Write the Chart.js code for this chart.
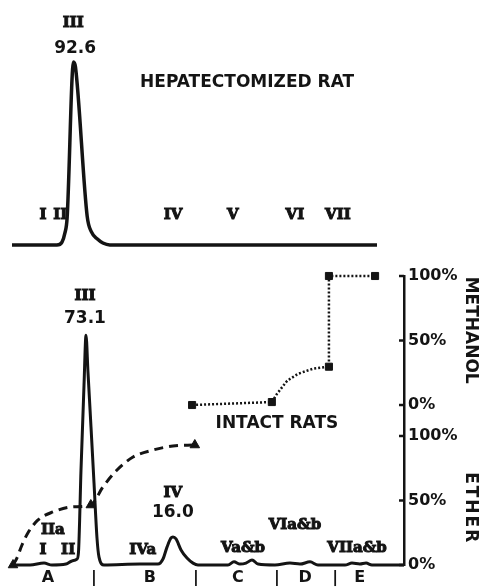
<!DOCTYPE html>
<html>
<head>
<meta charset="utf-8">
<script src="https://cdn.jsdelivr.net/npm/chart.js@4.4.1/dist/chart.umd.min.js"></script>
<style>
  html, body { margin: 0; padding: 0; background: #fff; }
  #wrap { position: relative; width: 479px; height: 587px; }
  canvas { position: absolute; left: 0; }
  #top { top: 0; }
  #bottom { top: 260px; }
</style>
</head>
<body>
<div id="wrap">
  <canvas id="top" width="479" height="260"></canvas>
  <canvas id="bottom" width="479" height="327"></canvas>
</div>
<script>
// Hepatectomized rat: chromatogram trace (fraction position 0-100, relative height)
const hepX = [0, 12.3, 13.7, 14.5, 15.1, 16.85, 17.4, 20.6, 21.8, 23.4, 24.9, 26.8, 100];
const hepY = [0, 0, 1.5, 6.1, 13.7, 92.6, 90, 14.5, 6.5, 3.0, 1.0, 0, 0];

// Intact rats: chromatogram trace
const intactX = [0, 4.35, 7.93, 9.97, 13.55, 15.09, 16.37, 16.75, 17.39, 18.16, 18.67, 19.18, 19.95, 20.72, 21.48, 22.0, 23.27,
                 32.48, 37.08, 38.36, 39.39, 40.41, 40.92, 41.69, 42.97, 44.5, 46.04, 47.31,
                 54.99, 56.52, 58.06, 59.59, 61.13, 62.66, 67.0, 70.84, 73.4, 75.96, 78.0, 84.9, 86.7, 88.7, 90.3, 91.8, 100];
const intactY = [0, 0, 0.6, 0, 0.3, 1.3, 1.9, 4.1, 30.2, 57.2, 73.1, 61.3, 43.9, 26.1, 8.6, 2.5, 0,
                 0.3, 0.3, 1.9, 5.7, 8.6, 8.9, 8.3, 4.8, 2.2, 0.6, 0,
                 0, 1.0, 0.3, 0.6, 1.6, 0.3, 0, 0.6, 0.3, 1.0, 0, 0, 0.6, 0.3, 0.6, 0, 0];

// Ether gradient (%), dashed curve and its sampled points
const etherX = [0, 1.0, 2.3, 3.8, 6.4, 10.2, 15.1, 19.9, 23.0, 26.6, 30.7, 35.8, 40.9, 46.5];
const etherY = [0, 5.4, 15.5, 24.8, 34.9, 41.1, 45.0, 46.5, 60.5, 73.6, 83.7, 89.1, 92.2, 93.0];
const etherSampleX = [0, 19.9, 46.5];
const etherSampleY = [0, 46.5, 93.0];

// Methanol gradient (%), dotted curve and its sampled points
const methX = [45.8, 66.2, 67.5, 70.1, 72.9, 76.7, 80.8, 80.8, 92.6];
const methY = [0, 2.3, 8.6, 18.75, 24.2, 28.1, 29.7, 100, 100];
const methSampleX = [45.8, 66.2, 80.8, 80.8, 92.6];
const methSampleY = [0, 2.3, 29.7, 100, 100];

// right-hand scale: ether 0-100 at the bottom, methanol 0-100 stacked above it
const METHANOL_OFFSET = 124;
const etherTicks = [0, 50, 100];
const methanolTicks = [0, 50, 100];
const rightTickValues = [...etherTicks, ...methanolTicks.map(m => m + METHANOL_OFFSET)];
const rightTickLabels = ['0%', '50%', '100%', '0%', '50%', '100%'];

// fraction zones under the lower chromatogram
const zonePos = [8.95, 20.7, 35.0, 46.8, 57.5, 67.5, 74.7, 82.4, 88.7];
const zoneLabels = ['A', '|', 'B', '|', 'C', '|', 'D', '|', 'E'];

// peak names / numbers
const topLabels = [
  { text: 'III', x: 16.8, y: 112.4, f: 'roman' },
  { text: '92.6', x: 17.3, y: 99.7, f: 'num' },
  { text: 'HEPATECTOMIZED RAT', x: 64.4, y: 82, f: 'num' },
  { text: 'I', x: 8.5, y: 15.2, f: 'roman' },
  { text: 'II', x: 13.2, y: 15.2, f: 'roman' },
  { text: 'IV', x: 44.1, y: 15.2, f: 'roman' },
  { text: 'V', x: 60.5, y: 15.2, f: 'roman' },
  { text: 'VI', x: 77.5, y: 15.2, f: 'roman' },
  { text: 'VII', x: 89.3, y: 15.2, f: 'roman' }
];
const bottomLabels = [
  { text: 'III', x: 18.4, y: 85.5, f: 'roman' },
  { text: '73.1', x: 18.4, y: 78.5, f: 'num' },
  { text: 'IIa', x: 10.2, y: 11.1, f: 'roman' },
  { text: 'I', x: 7.7, y: 4.8, f: 'roman' },
  { text: 'II', x: 14.1, y: 4.8, f: 'roman' },
  { text: 'IVa', x: 33.2, y: 4.8, f: 'roman' },
  { text: 'IV', x: 40.9, y: 22.9, f: 'roman' },
  { text: '16.0', x: 40.9, y: 16.8, f: 'num' },
  { text: 'Va&b', x: 58.8, y: 5.4, f: 'roman' },
  { text: 'VIa&b', x: 72.1, y: 12.7, f: 'roman' },
  { text: 'VIIa&b', x: 88.0, y: 5.4, f: 'roman' },
  { text: 'INTACT RATS', x: 67.5, y: 45.1, f: 'num' }
];

const INK = '#141414';
const FONTS = {
  roman: 'bold 15px "DejaVu Serif"',
  num: 'bold 17px "DejaVu Sans"'
};
Chart.defaults.font.family = '"DejaVu Sans"';
Chart.defaults.color = INK;

const pts = (xs, ys) => xs.map((x, i) => ({ x, y: ys[i] }));

const notesPlugin = {
  id: 'notes',
  afterDatasetsDraw(chart, args, opts) {
    const ctx = chart.ctx;
    const xs = chart.scales.x, ys = chart.scales.y;
    ctx.save();
    ctx.fillStyle = INK;
    ctx.strokeStyle = INK;
    ctx.textAlign = 'center';
    ctx.textBaseline = 'middle';
    opts.labels.forEach(l => {
      ctx.font = FONTS[l.f];
      const px = xs.getPixelForValue(l.x), py = ys.getPixelForValue(l.y);
      ctx.fillText(l.text, px, py);
      if (l.f === 'roman') {
        // the hand-lettered numerals are heavier than any installed serif
        ctx.lineWidth = 1;
        ctx.strokeText(l.text, px, py);
      }
    });
    ctx.restore();
  }
};

// inward tick marks and the two solvent titles on the right axis
const solventAxisPlugin = {
  id: 'solventAxis',
  afterDraw(chart) {
    const s = chart.scales.yR;
    if (!s) return;
    const ctx = chart.ctx;
    ctx.save();
    ctx.strokeStyle = INK;
    ctx.lineWidth = 2.5;
    rightTickValues.forEach(v => {
      const y = s.getPixelForValue(v);
      ctx.beginPath();
      ctx.moveTo(s.left - 5, y);
      ctx.lineTo(s.left, y);
      ctx.stroke();
    });
    ctx.fillStyle = INK;
    ctx.font = 'bold 17px "DejaVu Sans"';
    ctx.textAlign = 'center';
    ctx.textBaseline = 'middle';
    const titles = [['METHANOL', METHANOL_OFFSET + 58, 0], ['ETHER', 44, 2]];
    titles.forEach(([t, v, sp]) => {
      ctx.save();
      ctx.translate(s.right - 9, s.getPixelForValue(v));
      ctx.rotate(Math.PI / 2);
      ctx.letterSpacing = sp + 'px';
      ctx.fillText(t, 0, 0);
      ctx.restore();
    });
    ctx.restore();
  }
};

const common = {
  responsive: false,
  animation: false,
  events: [],
  plugins: { legend: { display: false }, tooltip: { enabled: false } }
};

new Chart(document.getElementById('top'), {
  type: 'line',
  data: {
    datasets: [{
      data: pts(hepX, hepY),
      borderColor: INK,
      borderWidth: 3.5,
      pointRadius: 0,
      cubicInterpolationMode: 'monotone',
      borderJoinStyle: 'round',
      clip: false
    }]
  },
  options: {
    ...common,
    layout: { autoPadding: false, padding: { left: 12, right: 102, top: 8, bottom: 15 } },
    scales: {
      x: { type: 'linear', min: 0, max: 100, display: false },
      y: { min: 0, max: 120, display: false }
    },
    plugins: { ...common.plugins, notes: { labels: topLabels } }
  },
  plugins: [notesPlugin]
});

new Chart(document.getElementById('bottom'), {
  type: 'line',
  data: {
    datasets: [
      {
        data: pts(intactX, intactY),
        yAxisID: 'y',
        borderColor: INK,
        borderWidth: 3,
        pointRadius: 0,
        cubicInterpolationMode: 'monotone',
        clip: false
      },
      {
        data: pts(etherX, etherY),
        yAxisID: 'yR',
        borderColor: INK,
        borderWidth: 3,
        borderDash: [9, 6],
        pointRadius: 0,
        cubicInterpolationMode: 'monotone',
        clip: false
      },
      {
        data: pts(etherSampleX, etherSampleY),
        yAxisID: 'yR',
        showLine: false,
        pointStyle: 'triangle',
        pointRadius: 5.5,
        backgroundColor: INK,
        borderColor: INK,
        clip: false
      },
      {
        data: pts(methX, methY),
        yAxisID: 'yM',
        borderColor: INK,
        borderWidth: 2.5,
        borderDash: [2, 2],
        pointRadius: 0,
        tension: 0,
        clip: false
      },
      {
        data: pts(methSampleX, methSampleY),
        yAxisID: 'yM',
        showLine: false,
        pointStyle: 'rect',
        pointRadius: 5,
        backgroundColor: INK,
        borderColor: INK,
        clip: false
      }
    ]
  },
  options: {
    ...common,
    layout: { autoPadding: false, padding: { left: 13, right: 0, top: 16, bottom: 0 } },
    scales: {
      x: {
        type: 'linear', min: 0, max: 100,
        grid: { display: false, drawTicks: false },
        border: { display: false },
        afterBuildTicks: s => { s.ticks = zonePos.map(v => ({ value: v })); },
        afterFit: s => { s.height = 22; },
        ticks: {
          autoSkip: false, maxRotation: 0, padding: 3,
          font: { size: 16, weight: 'bold' },
          color: INK,
          callback: (v, i) => zoneLabels[i]
        }
      },
      y: { min: 0, max: 92, display: false },
      yM: { min: -METHANOL_OFFSET, max: 100, display: false },
      yR: {
        position: 'right', min: 0, max: 100 + METHANOL_OFFSET,
        grid: { display: false, drawTicks: false },
        border: { display: true, color: INK, width: 2.5 },
        afterBuildTicks: s => { s.ticks = rightTickValues.map(v => ({ value: v })); },
        afterFit: s => { s.width = 75; },
        ticks: {
          padding: 4,
          font: { size: 16, weight: 'bold' },
          color: INK,
          callback: (v, i) => rightTickLabels[i]
        }
      }
    },
    plugins: { ...common.plugins, notes: { labels: bottomLabels } }
  },
  plugins: [notesPlugin, solventAxisPlugin]
});
</script>
</body>
</html>
